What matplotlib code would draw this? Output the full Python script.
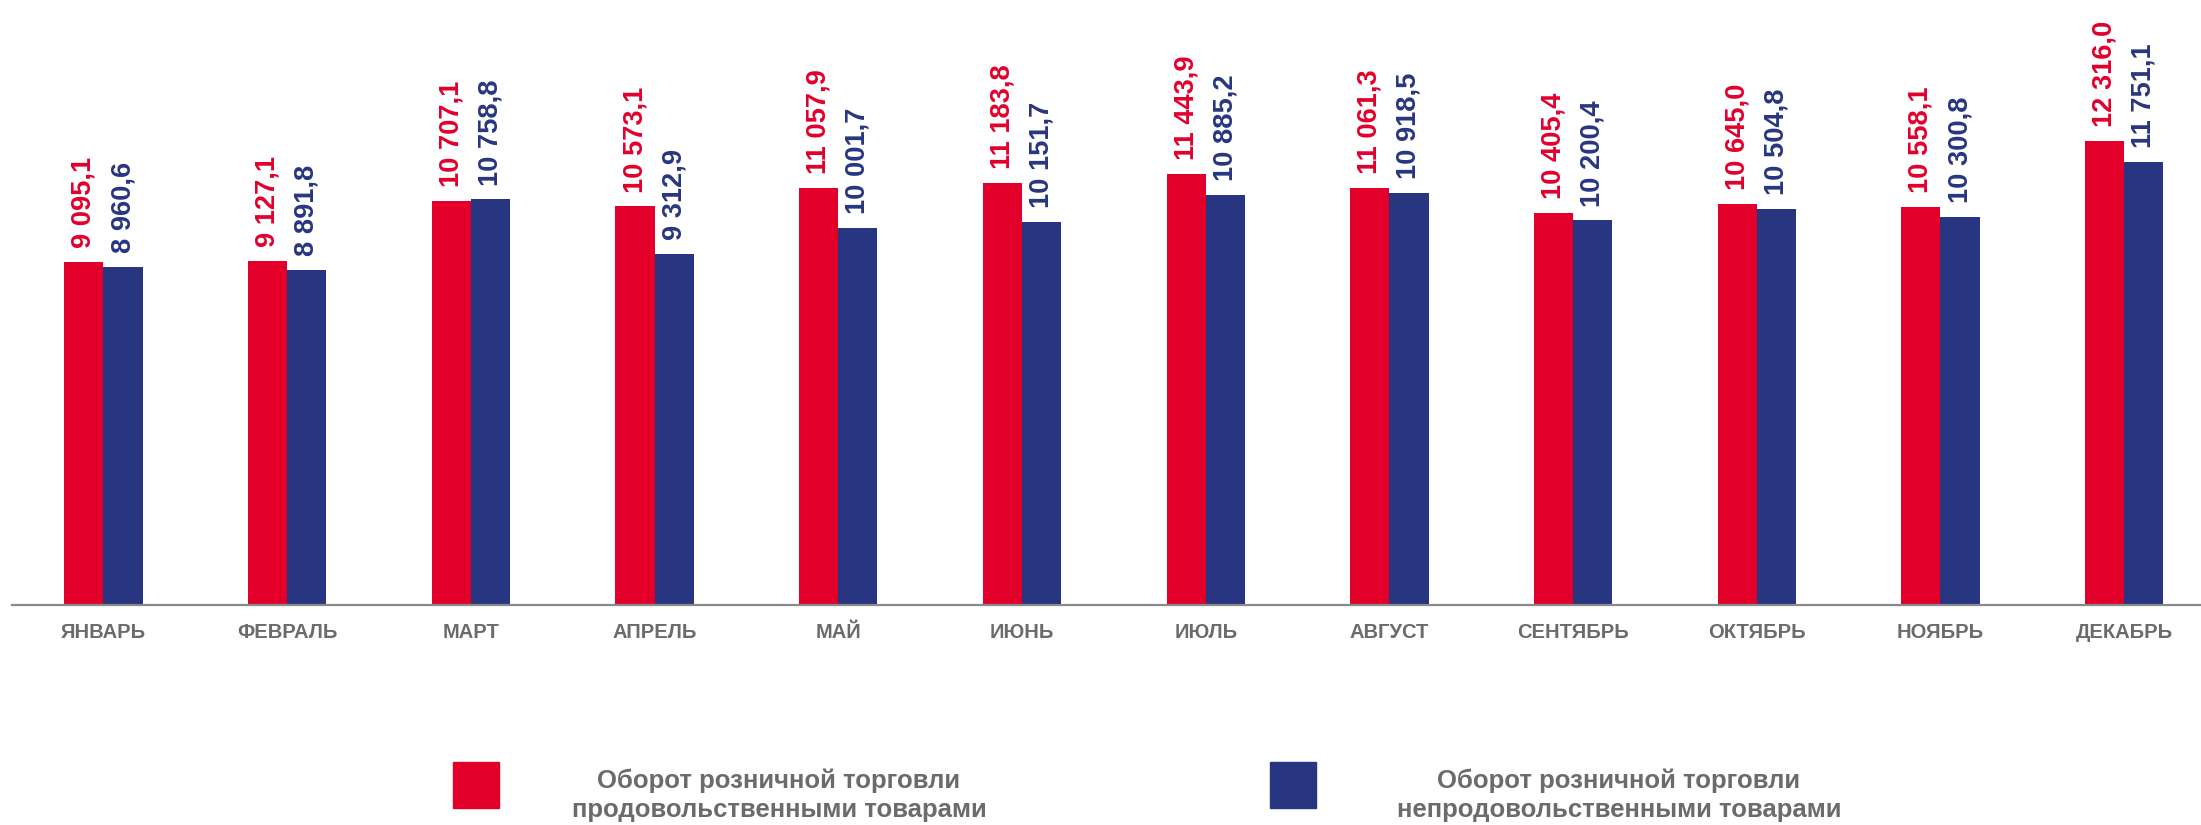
import matplotlib.pyplot as plt
import numpy as np
from matplotlib.patches import Rectangle

plt.rcParams['font.family'] = ['Liberation Sans', 'DejaVu Sans']

# данные
months = ['ЯНВАРЬ', 'ФЕВРАЛЬ', 'МАРТ', 'АПРЕЛЬ', 'МАЙ', 'ИЮНЬ', 'ИЮЛЬ',
          'АВГУСТ', 'СЕНТЯБРЬ', 'ОКТЯБРЬ', 'НОЯБРЬ', 'ДЕКАБРЬ']
food = [9095.1, 9127.1, 10707.1, 10573.1, 11057.9, 11183.8, 11443.9,
        11061.3, 10405.4, 10645.0, 10558.1, 12316.0]
nonfood = [8960.6, 8891.8, 10758.8, 9312.9, 10001.7, 10151.7, 10885.2,
           10918.5, 10200.4, 10504.8, 10300.8, 11751.1]
legend_labels = ['Оборот розничной торговли\nпродовольственными товарами',
                 'Оборот розничной торговли\nнепродовольственными товарами']

red = '#E2002B'
blue = '#283580'
gray = '#6B6B6B'

W, H = 2201, 825
fig = plt.figure(figsize=(W / 100, H / 100), dpi=100)
ax = fig.add_axes([11.65 / W, 220 / H, 2204.4 / W, 605 / H])

x = np.arange(len(months))
w = 0.213
b1 = ax.bar(x - w / 2, food, width=w, color=red)
b2 = ax.bar(x + w / 2, nonfood, width=w, color=blue)


def fmt(v):
    s = f'{v:,.1f}'
    return s.replace(',', ' ').replace('.', ',')


# подписи значений
for bars, vals, c in [(b1, food, red), (b2, nonfood, blue)]:
    for r, v in zip(bars, vals):
        ax.annotate(fmt(v), (r.get_x() + r.get_width() / 2, v),
                    xytext=(0, 10), textcoords='offset points',
                    rotation=90, ha='center', va='bottom',
                    fontsize=19.6, fontweight='bold', color=c,
                    annotation_clip=False)

ax.set_xlim(-0.5, 11.5)
ax.set_ylim(0, 16048)
ax.set_xticks(x)
ax.set_xticklabels(months, fontsize=14.5, fontweight='bold', color=gray)
ax.tick_params(axis='x', length=0, pad=13)
ax.set_yticks([])
for s in ['top', 'right', 'left']:
    ax.spines[s].set_visible(False)
ax.spines['bottom'].set_color('#898989')
ax.spines['bottom'].set_linewidth(1.6)

# легенда
for (x0, tx), c, lab in zip([(453, 779), (1270, 1619)], [red, blue], legend_labels):
    fig.add_artist(Rectangle((x0 / W, (H - 808) / H), 46 / W, 46 / H,
                             transform=fig.transFigure, color=c))
    fig.text(tx / W, (H - 795) / H, lab, ha='center', va='center',
             fontsize=18.5, fontweight='bold', color=gray,
             linespacing=1.25)

fig.savefig('out.png', dpi=100)
